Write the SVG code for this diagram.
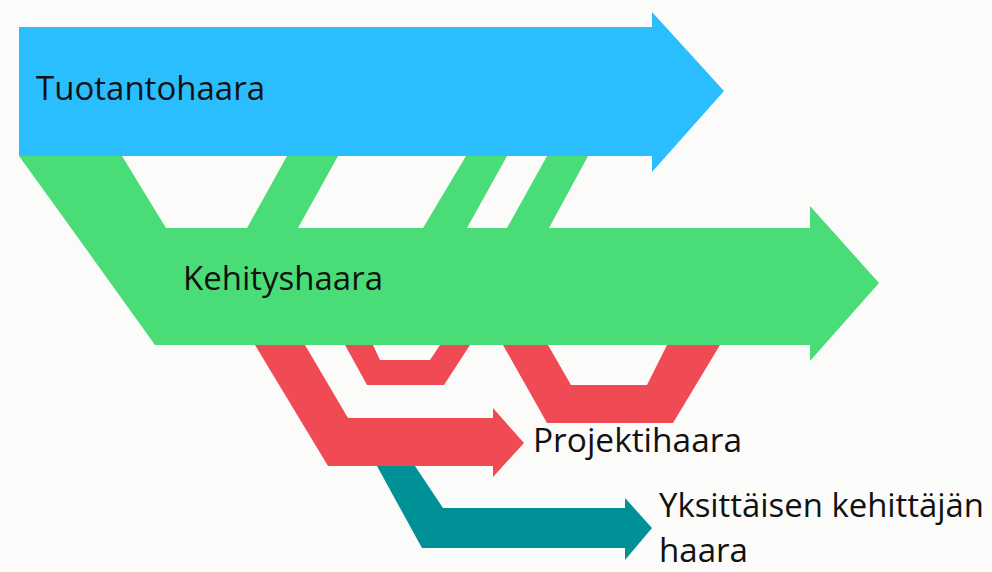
<svg xmlns="http://www.w3.org/2000/svg" width="992" height="572" viewBox="0 0 992 572">
<style>
.blue{fill:#2abefe}
.green{fill:#4add77}
.red{fill:#f04b54}
.teal{fill:#009197}
.lbl{font-family:"Open Sans","DejaVu Sans",sans-serif;font-size:32.5px;fill:#111}
</style>
<rect width="992" height="572" fill="#fbfbf9"/>
<g id="connectors">
<polygon class="green" points="19,156 122,156 166,228 71,228"/>
<polygon class="green" points="287,156 338,156 298,228 247,228"/>
<polygon class="green" points="466,156 507,156 467,228 423,228"/>
<polygon class="green" points="547,156 588,156 549,228 507,228"/>
<polygon class="red" points="255,345 305,345 348,418 299,418"/>
<polygon class="red" points="345,345 367,385 444,385 470,345 440,345 430,360 380,360 373,345"/>
<polygon class="red" points="503,345 547,423 673,423 720,345 667,345 647,385 571,385 548,345"/>
<polygon class="teal" points="377,466 415,466 443,508 400,508"/>
</g>
<g id="tuotantohaara">
<polygon class="blue" points="19,27 652,27 652,12 724,91 652,172 652,156 19,156"/>
<text class="lbl" x="36" y="100" textLength="229" lengthAdjust="spacingAndGlyphs">Tuotantohaara</text>
</g>
<g id="kehityshaara">
<polygon class="green" points="71,228 810,228 810,206 879,283 810,361 810,345 155,345"/>
<text class="lbl" x="183" y="290" textLength="200" lengthAdjust="spacingAndGlyphs">Kehityshaara</text>
</g>
<g id="projektihaara">
<polygon class="red" points="299,418 493,418 493,408 524,443 493,477 493,466 328,466"/>
<text class="lbl" x="533" y="452" textLength="209" lengthAdjust="spacingAndGlyphs">Projektihaara</text>
</g>
<g id="yksittainen">
<polygon class="teal" points="400,508 625,508 625,498 652,528 625,560 625,548 422,548"/>
<text class="lbl" x="659" y="517" textLength="325" lengthAdjust="spacingAndGlyphs">Yksittäisen kehittäjän</text>
<text class="lbl" x="659" y="562" textLength="89" lengthAdjust="spacingAndGlyphs">haara</text>
</g>
</svg>
